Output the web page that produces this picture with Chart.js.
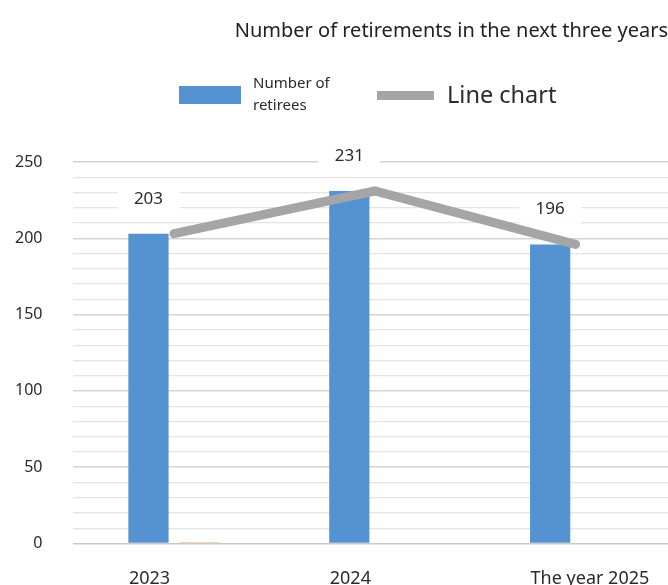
<!DOCTYPE html>
<html lang="en">
<head>
    <meta charset="UTF-8">
    <title>Number of retirements in the next three years</title>
    <script src="https://cdn.jsdelivr.net/npm/chart.js"></script>
    <style>
        html, body { margin: 0; padding: 0; background: #ffffff; }
        #wrap { width: 668px; height: 585px; }
    </style>
</head>
<body>
    <div id="wrap"><canvas id="retireChart"></canvas></div>

    <script>
        // Datos del grafico
        const categories = ['2023', '2024', 'The year 2025'];
        const retirees = [203, 231, 196];
        const otherSeries = [1, 0, 0];
        const lineValues = [203, 231, 196];
        const yTicks = [0, 50, 100, 150, 200, 250];

        const FONT = "'Noto Sans', 'DejaVu Sans', sans-serif";
        const BLUE = '#5592d2';
        const GREY = '#a5a5a5';

        const toPoints = vals => vals.map((v, i) => ({ x: i, y: v }));

        // Etiquetas de valor con fondo blanco sobre las barras azules
        const valueLabels = {
            id: 'valueLabels',
            afterDatasetsDraw(chart) {
                const ctx = chart.ctx;
                const meta = chart.getDatasetMeta(1);
                ctx.save();
                ctx.font = '17px ' + FONT;
                ctx.textAlign = 'center';
                ctx.textBaseline = 'middle';
                meta.data.forEach((bar, i) => {
                    const y = bar.y - 35;
                    ctx.fillStyle = '#ffffff';
                    ctx.fillRect(bar.x - 31, y - 14, 62, 28);
                    ctx.fillStyle = '#2b2b2b';
                    ctx.fillText(String(retirees[i]), bar.x, y);
                });
                ctx.restore();
            }
        };

        // Leyenda propia (tamanos de letra distintos en cada entrada)
        const customLegend = {
            id: 'customLegend',
            afterDraw(chart) {
                const ctx = chart.ctx;
                const bars = chart.data.datasets[1];
                const line = chart.data.datasets[0];
                ctx.save();
                ctx.fillStyle = bars.backgroundColor;
                ctx.fillRect(179, 86, 62, 18);
                ctx.fillStyle = '#2b2b2b';
                ctx.font = '15px ' + FONT;
                ctx.textAlign = 'left';
                ctx.textBaseline = 'middle';
                const words = bars.label.split(' ');
                ctx.fillText(words.slice(0, 2).join(' '), 253, 84);
                ctx.fillText(words.slice(2).join(' '), 253, 106);

                ctx.strokeStyle = line.borderColor;
                ctx.lineWidth = 9;
                ctx.beginPath();
                ctx.moveTo(377, 95.5);
                ctx.lineTo(434, 95.5);
                ctx.stroke();
                ctx.font = '23.5px ' + FONT;
                ctx.fillText(line.label, 447, 96);
                ctx.restore();
            }
        };

        new Chart(document.getElementById('retireChart'), {
            type: 'bar',
            data: {
                datasets: [
                    {
                        type: 'line',
                        label: 'Line chart',
                        data: toPoints(lineValues),
                        borderColor: GREY,
                        borderWidth: 9,
                        borderCapStyle: 'round',
                        borderJoinStyle: 'miter',
                        pointRadius: 0,
                        tension: 0,
                        order: 0
                    },
                    {
                        label: 'Number of retirees',
                        data: toPoints(retirees),
                        backgroundColor: BLUE,
                        categoryPercentage: 0.507,
                        barPercentage: 0.79,
                        order: 1
                    },
                    {
                        label: 'Series 2',
                        data: toPoints(otherSeries),
                        backgroundColor: '#efc9a4',
                        categoryPercentage: 0.507,
                        barPercentage: 0.79,
                        order: 1
                    }
                ]
            },
            options: {
                responsive: true,
                maintainAspectRatio: false,
                animation: false,
                layout: { padding: { top: 0, left: 0, right: 0, bottom: 0 } },
                plugins: {
                    legend: { display: false },
                    tooltip: { enabled: false },
                    title: {
                        display: true,
                        text: 'Number of retirements in the next three years',
                        align: 'end',
                        color: '#222222',
                        font: { family: FONT, size: 20, weight: 'normal', lineHeight: 1.2 },
                        padding: { top: 19, bottom: 119 }
                    }
                },
                scales: {
                    x: {
                        type: 'linear',
                        offset: false,
                        min: -0.505,
                        max: 2.46,
                        grid: { display: false },
                        border: { display: false },
                        afterBuildTicks: scale => {
                            scale.ticks = categories.map((c, i) => ({ value: i }));
                        },
                        afterFit: scale => {
                            scale.height = 41.5;
                            scale.paddingLeft = 0;
                            scale.paddingRight = 0;
                        },
                        ticks: {
                            autoSkip: false,
                            maxRotation: 0,
                            align: 'start',
                            labelOffset: -45,
                            padding: 17,
                            color: '#2b2b2b',
                            font: { family: FONT, size: 18 },
                            callback: value => categories[value]
                        }
                    },
                    y: {
                        min: 0,
                        max: 250,
                        border: { display: false },
                        afterFit: scale => { scale.width = 72.5; },
                        grid: {
                            drawTicks: false,
                            color: c => c.tick.value === 0 ? '#c9c9c9'
                                : (yTicks.includes(c.tick.value) ? '#d3d3d3' : '#e4e4e4'),
                            lineWidth: c => yTicks.includes(c.tick.value) ? 1.5 : 1.2
                        },
                        ticks: {
                            stepSize: 10,
                            autoSkip: false,
                            padding: 30,
                            color: '#2b2b2b',
                            font: { family: FONT, size: 16 },
                            callback: value => yTicks.includes(value) ? value : ''
                        }
                    }
                }
            },
            plugins: [valueLabels, customLegend]
        });
    </script>
</body>
</html>
